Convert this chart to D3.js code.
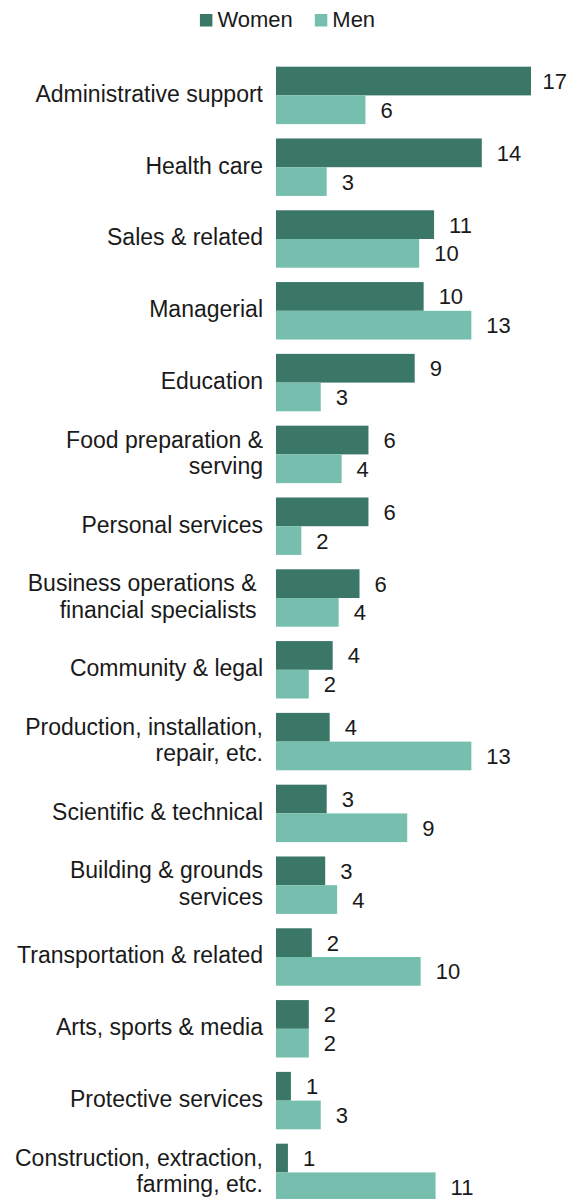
<!DOCTYPE html>
<html>
<head>
<meta charset="utf-8">
<script src="https://cdn.jsdelivr.net/npm/d3@7"></script>
<style>
  html, body { margin: 0; padding: 0; background: #fff; }
  svg { display: block; }
  text { font-family: "Liberation Sans", Arial, sans-serif; fill: #1a1a1a; }
</style>
</head>
<body>
<div id="chart"></div>
<script>
const categories = [
  ["Administrative support"],
  ["Health care"],
  ["Sales & related"],
  ["Managerial"],
  ["Education"],
  ["Food preparation &", "serving"],
  ["Personal services"],
  ["Business operations & ", "financial specialists "],
  ["Community & legal"],
  ["Production, installation,", "repair, etc."],
  ["Scientific & technical"],
  ["Building & grounds", "services"],
  ["Transportation & related"],
  ["Arts, sports & media"],
  ["Protective services"],
  ["Construction, extraction,", "farming, etc."]
];
const women = [17.1, 13.8, 10.6, 9.9, 9.3, 6.2, 6.2, 5.6, 3.8, 3.6, 3.4, 3.3, 2.4, 2.2, 1.0, 0.8];
const men   = [6.0, 3.4, 9.6, 13.1, 3.0, 4.4, 1.7, 4.2, 2.2, 13.1, 8.8, 4.1, 9.7, 2.2, 3.0, 10.7];
const seriesNames = ["Women", "Men"];
const colors = ["#3a7767", "#76bfae"];

const W = 575, H = 1199;
const svg = d3.select("#chart").append("svg").attr("width", W).attr("height", H);

const keys = categories.map((c, i) => i);
const x = d3.scaleLinear().domain([0, 17.1]).range([276, 531]);
const y = d3.scaleBand().domain(keys).range([59.5, 59.5 + 16 * 71.8]).paddingInner(0.2).paddingOuter(0.1);
const ySub = d3.scaleBand().domain(seriesNames).range([0, y.bandwidth()]);

const data = keys.map(i => ({ i, lines: categories[i], values: [women[i], men[i]] }));

const g = svg.append("g");
const groups = g.selectAll("g.grp").data(data).join("g")
  .attr("class", "grp")
  .attr("transform", d => `translate(0,${y(d.i)})`);

groups.selectAll("rect").data(d => d.values.map((v, k) => ({ v, k })))
  .join("rect")
  .attr("x", x(0))
  .attr("y", d => ySub(seriesNames[d.k]))
  .attr("width", d => x(d.v) - x(0))
  .attr("height", ySub.bandwidth())
  .attr("fill", d => colors[d.k]);

groups.selectAll("text.val").data(d => d.values.map((v, k) => ({ v, k })))
  .join("text")
  .attr("class", "val")
  .attr("y", d => ySub(seriesNames[d.k]) + ySub.bandwidth() / 2 + 8)
  .style("font-size", "22px")
  .text(d => Math.round(d.v))
  .attr("x", function(d) {
    const tw = this.getComputedTextLength();
    return Math.min(x(d.v) + 15, W - 8 - tw);
  });

// category labels
const lh = 26.7;
groups.each(function(d) {
  const t = d3.select(this).append("text")
    .attr("text-anchor", "end")
    .style("font-size", "23px")
    .style("white-space", "pre");
  const n = d.lines.length;
  const c = y.bandwidth() / 2;
  d.lines.forEach((ln, j) => {
    t.append("tspan")
      .attr("x", 263)
      .attr("y", c + 6.5 - (n - 1) * lh / 2 + j * lh)
      .text(ln);
  });
});

// legend
const legend = svg.append("g");
const items = legend.selectAll("g").data(seriesNames).join("g");
items.append("rect").attr("width", 12.5).attr("height", 12.5).attr("y", 14)
  .attr("fill", (d, k) => colors[k]);
items.append("text").attr("x", 17.5).attr("y", 26.7).style("font-size", "22px").text(d => d);
const widths = [];
items.each(function() { widths.push(17.5 + d3.select(this).select("text").node().getComputedTextLength()); });
const total = widths[0] + 22 + widths[1];
const start = W / 2 - total / 2;
items.attr("transform", (d, k) => {
  const tx = start + (k === 0 ? 0 : widths[0] + 22);
  return `translate(${tx},0)`;
});
</script>
</body>
</html>
